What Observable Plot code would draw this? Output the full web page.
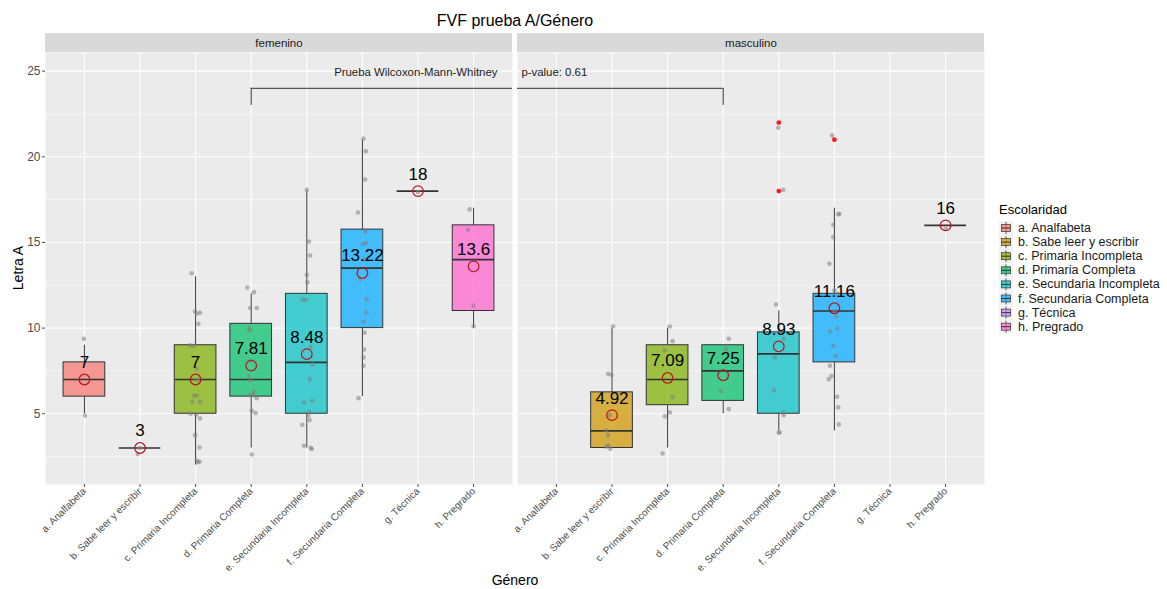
<!DOCTYPE html>
<html><head><meta charset="utf-8">
<script src="https://cdn.jsdelivr.net/npm/d3@7"></script>
<script src="https://cdn.jsdelivr.net/npm/@observablehq/plot@0.6"></script>
<style>
body{margin:0;background:#fff;font-family:"Liberation Sans",Arial,sans-serif;}
#chart{position:relative;width:1167px;height:589px;}
</style></head><body><div id="chart"></div>
<script>
// ---------- data ----------
const chartTitle = "FVF prueba A/Género";
const yTitle = "Letra A";
const xTitle = "Género";
const legendTitle = "Escolaridad";
const genders = ["femenino", "masculino"];
const categories = ["a. Analfabeta","b. Sabe leer y escribir","c. Primaria Incompleta","d. Primaria Completa","e. Secundaria Incompleta","f. Secundaria Completa","g. Técnica","h. Pregrado"];
const palette = ["#F8766D","#CD9600","#7CAE00","#00BE67","#00BFC4","#00A9FF","#C77CFF","#FF61CC"];
const yTicks = [5, 10, 15, 20, 25];
const yMinor = [2.5, 7.5, 12.5, 17.5, 22.5];

// box statistics per category (a..h); null = no data
const femLow  = [5, 3, 2, 3, 3, 6, 18, 10];
const femQ1   = [6, 3, 5, 6, 5, 10, 18, 11];
const femMed  = [7, 3, 7, 7, 8, 13.5, 18, 14];
const femQ3   = [8, 3, 9, 10.25, 12, 15.75, 18, 16];
const femHigh = [9, 3, 13, 12, 18, 21, 18, 17];
const femMean = [7, 3, 7, 7.81, 8.48, 13.22, 18, 13.6];
const mascLow  = [null, 3, 3, 5, 4, 4, null, 16];
const mascQ1   = [null, 3, 5.5, 5.75, 5, 8, null, 16];
const mascMed  = [null, 4, 7, 7.5, 8.5, 11, null, 16];
const mascQ3   = [null, 6.25, 9, 9, 9.75, 12, null, 16];
const mascHigh = [null, 10, 10, 9, 11, 17, null, 16];
const mascMean = [null, 4.92, 7.09, 7.25, 8.93, 11.16, null, 16];

// individual observations [category letter, value]
const femPoints = [
 ["a",9.38],["a",4.9],
 ["b",3.0],["b",2.65],
 ["c",13.2],["c",10.97],["c",10.9],["c",10.84],["c",10.25],["c",9.0],["c",8.96],["c",7.63],["c",6.98],["c",6.98],["c",6.07],["c",6.07],["c",5.7],["c",5.7],["c",5.0],["c",4.94],["c",4.73],["c",3.75],["c",3.03],["c",2.27],["c",2.2],["c",2.17],
 ["d",12.37],["d",12.1],["d",11.17],["d",11.17],["d",10.0],["d",9.86],["d",8.11],["d",7.2],["d",6.94],["d",6.3],["d",6.09],["d",6.09],["d",5.91],["d",5.17],["d",5.04],["d",2.62],
 ["e",18.08],["e",15.06],["e",14.24],["e",13.11],["e",12.67],["e",11.67],["e",11.65],["e",8.89],["e",7.88],["e",7.02],["e",5.76],["e",5.66],["e",5.12],["e",4.88],["e",4.63],["e",4.36],["e",3.13],["e",3.01],["e",2.94],
 ["f",21.07],["f",20.33],["f",18.68],["f",16.75],["f",15.64],["f",14.98],["f",14.9],["f",13.99],["f",12.86],["f",11.69],["f",10.91],["f",10.37],["f",9.73],["f",8.75],["f",8.29],["f",7.8],["f",5.91],
 ["g",17.95],
 ["h",16.93],["h",15.74],["h",11.32],["h",10.11]
];
// horizontal jitter (category units), aligned with femPoints
const femJitter = [
 -0.01,0.01,
 0,-0.04,
 -0.07,-0.01,0.08,0.02,0.05,-0.10,-0.03,0.02,0.02,0.08,-0.03,0.02,-0.06,0.08,-0.09,0.01,0.08,-0.01,0.07,0.02,0.07,0.04,
 -0.07,0.05,-0.02,0.10,-0.04,-0.02,-0.01,-0.04,-0.01,0.04,-0.02,0.04,0.10,0.01,0.08,0.01,
 0,0.04,0.06,0,0.01,-0.08,-0.02,0.07,0.10,0.05,0.10,-0.05,0.04,0.03,0.05,-0.08,-0.05,0.07,0.09,
 0.02,0.06,0.05,-0.08,0.05,0.06,0.01,0.03,-0.04,0.08,0.07,0.02,0.04,0.03,0.02,0.02,-0.07,
 0,
 -0.07,-0.10,0,0
];
const mascPoints = [
 ["b",10.11],["b",7.33],["b",7.26],["b",4.92],["b",4.03],["b",3.75],["b",3.15],["b",3.07],["b",2.96],
 ["c",10.09],["c",9.24],["c",8.7],["c",5.97],["c",5.08],["c",4.85],["c",2.68],
 ["d",9.38],["d",8.76],["d",6.32],["d",5.27],
 ["e",21.7],["e",18.08],["e",11.38],["e",9.38],["e",8.3],["e",6.36],["e",5.08],["e",4.92],["e",3.91],["e",3.9],
 ["f",21.25],["f",16.68],["f",16.64],["f",16.03],["f",15.31],["f",13.76],["f",12.2],["f",12.0],["f",11.0],["f",10.68],["f",9.98],["f",9.82],["f",8.97],["f",8.39],["f",7.8],["f",7.2],["f",7.02],["f",5.99],["f",5.37],["f",4.38],
 ["h",15.8]
];
const mascJitter = [
 0.02,-0.07,-0.01,-0.04,-0.10,-0.07,-0.07,-0.10,-0.03,
 0.04,0.09,-0.05,0.09,0.04,-0.05,-0.09,
 0.10,0.05,-0.04,0.10,
 -0.01,0.08,-0.05,0.09,-0.07,-0.09,0.08,0.09,0.01,0,
 -0.04,0.09,0.07,-0.02,-0.02,-0.09,0,0.06,0,0.03,0.05,-0.08,-0.02,0.02,-0.08,-0.05,-0.10,0.05,0.07,0.08,
 0
];
// boxplot outliers (masculino)
const mascOutliers = [["e",22],["e",18],["f",21]];
const testName = "Prueba Wilcoxon-Mann-Whitney";
const pValue = 0.61;
const comparedCategory = "d";

// ---------- build tables ----------
const letters = "abcdefgh".split("");
const boxes = [];
function addBoxes(g, lo, q1, md, q3, hi, mn) {
  for (let k = 0; k < 8; k++) {
    if (md[k] == null) continue;
    boxes.push({g, i: k + 1, cat: categories[k], low: lo[k], q1: q1[k], med: md[k], q3: q3[k], high: hi[k], mean: mn[k]});
  }
}
addBoxes("femenino", femLow, femQ1, femMed, femQ3, femHigh, femMean);
addBoxes("masculino", mascLow, mascQ1, mascMed, mascQ3, mascHigh, mascMean);
const points = [
  ...femPoints.map((p, k) => ({g: "femenino", i: letters.indexOf(p[0]) + 1, v: p[1], j: femJitter[k]})),
  ...mascPoints.map((p, k) => ({g: "masculino", i: letters.indexOf(p[0]) + 1, v: p[1], j: mascJitter[k]}))
];
const outliers = mascOutliers.map(p => ({g: "masculino", i: letters.indexOf(p[0]) + 1, v: p[1]}));
const ci = letters.indexOf(comparedCategory) + 1;

// ---------- layout ----------
const Y0 = 0.87, Y1 = 26.09, STRIP = 1.11;
const XLO = 0.3, XHI = 8.7, HW = 0.375;
const FONT = "'Liberation Sans', Arial, Helvetica, sans-serif";
const catIdx = d3.range(1, 9);
const bracket = [{g: "femenino", a: ci, b: XHI}, {g: "masculino", a: XLO, b: ci}];

const svg = Plot.plot({
  width: 1167, height: 589,
  marginLeft: 45, marginRight: 182, marginTop: 52, marginBottom: 105,
  style: {fontFamily: FONT, background: "white", overflow: "visible"},
  fx: {domain: genders, paddingInner: 0.0097, paddingOuter: 0, axis: null, label: null},
  x: {domain: [XLO, XHI], axis: null},
  y: {domain: [Y0, Y1], axis: null},
  color: {type: "ordinal", domain: categories, range: palette},
  marks: [
    Plot.frame({fill: "#ebebeb", stroke: "none"}),
    Plot.ruleY(yMinor, {stroke: "white", strokeWidth: 0.55}),
    Plot.ruleY(yTicks, {stroke: "white", strokeWidth: 1.1}),
    Plot.ruleX(catIdx, {stroke: "white", strokeWidth: 1.1}),
    Plot.rect(genders, {fx: d => d, x1: XLO, x2: XHI, y1: Y1, y2: Y1 + STRIP, fill: "#d9d9d9"}),
    Plot.text(genders, {fx: d => d, x: (XLO + XHI) / 2, y: Y1 + STRIP / 2, text: d => d, fontSize: 11.5, fill: "#1a1a1a"}),
    Plot.axisY(yTicks, {tickSize: 3, tickPadding: 2, fontSize: 12, color: "#4d4d4d", label: null}),
    Plot.axisX(catIdx, {tickFormat: i => categories[i - 1], tickRotate: -45, tickSize: 3, tickPadding: 2, fontSize: 10, color: "#4d4d4d", label: null}),
    // bracket
    Plot.ruleY(bracket, {fx: "g", y: 24, x1: "a", x2: "b", stroke: "#333", strokeWidth: 1}),
    Plot.ruleX(genders, {fx: d => d, x: ci, y1: 23, y2: 24, stroke: "#333", strokeWidth: 1}),
    Plot.text(["femenino"], {fx: d => d, x: 8.43, y: 24.92, text: () => testName, textAnchor: "end", fontSize: 11.4, fill: "#1a1a1a"}),
    Plot.text(["masculino"], {fx: d => d, x: 0.37, y: 24.92, text: () => "p-value: " + pValue, textAnchor: "start", fontSize: 11.4, fill: "#1a1a1a"}),
    // boxes
    Plot.ruleX(boxes, {fx: "g", x: "i", y1: "low", y2: "q1", stroke: "#3a3a3a", strokeWidth: 1}),
    Plot.ruleX(boxes, {fx: "g", x: "i", y1: "q3", y2: "high", stroke: "#3a3a3a", strokeWidth: 1}),
    Plot.rect(boxes, {fx: "g", x1: d => d.i - HW, x2: d => d.i + HW, y1: "q1", y2: "q3", fill: "cat", fillOpacity: 0.72, stroke: "#333", strokeWidth: 1}),
    Plot.ruleY(boxes, {fx: "g", y: "med", x1: d => d.i - HW, x2: d => d.i + HW, stroke: "#333", strokeWidth: 1.7}),
    Plot.dot(points, {fx: "g", x: d => d.i + d.j, y: "v", r: 2.3, fill: "#7f7f7f", fillOpacity: 0.55, stroke: "none"}),
    Plot.dot(outliers, {fx: "g", x: "i", y: "v", r: 2.4, fill: "#ff1a1a", stroke: "none"}),
    Plot.dot(boxes, {fx: "g", x: "i", y: "mean", r: 5.3, stroke: "#b8141b", strokeWidth: 1.2, fill: "none"}),
    Plot.text(boxes, {fx: "g", x: "i", y: "mean", text: d => String(d.mean), dy: -17, fontSize: 17, fill: "black"})
  ]
});

const root = d3.select(svg);
root.append("text").attr("x", 515).attr("y", 20).attr("text-anchor", "middle").attr("dominant-baseline", "central")
  .attr("font-size", 16).attr("fill", "#000").attr("font-family", FONT).text(chartTitle);
root.append("text").attr("transform", "translate(18,268) rotate(-90)").attr("text-anchor", "middle").attr("dominant-baseline", "central")
  .attr("font-size", 14).attr("fill", "#000").attr("font-family", FONT).text(yTitle);
root.append("text").attr("x", 515).attr("y", 580).attr("text-anchor", "middle").attr("dominant-baseline", "central")
  .attr("font-size", 14).attr("fill", "#000").attr("font-family", FONT).text(xTitle);

const lg = root.append("g").attr("font-family", FONT).attr("text-anchor", "start");
lg.append("text").attr("x", 999).attr("y", 209).attr("text-anchor", "start").attr("dominant-baseline", "central").attr("font-size", 13).attr("fill", "#000").text(legendTitle);
categories.forEach((c, k) => {
  const cy = 228 + 14.1 * k;
  const g = lg.append("g");
  g.append("rect").attr("x", 999).attr("y", cy - 7).attr("width", 14).attr("height", 14).attr("fill", "#f2f2f2");
  g.append("line").attr("x1", 1006).attr("x2", 1006).attr("y1", cy - 6).attr("y2", cy + 6).attr("stroke", "#333").attr("stroke-width", 0.8);
  g.append("rect").attr("x", 1001.5).attr("y", cy - 3.5).attr("width", 9).attr("height", 7)
    .attr("fill", palette[k]).attr("fill-opacity", 0.72).attr("stroke", "#333").attr("stroke-width", 0.7);
  g.append("line").attr("x1", 1001.5).attr("x2", 1010.5).attr("y1", cy).attr("y2", cy).attr("stroke", "#333").attr("stroke-width", 1);
  g.append("text").attr("x", 1018).attr("y", cy).attr("text-anchor", "start").attr("dominant-baseline", "central").attr("font-size", 12.5).attr("fill", "#1a1a1a").text(c);
});

document.getElementById("chart").appendChild(svg);
</script></body></html>
